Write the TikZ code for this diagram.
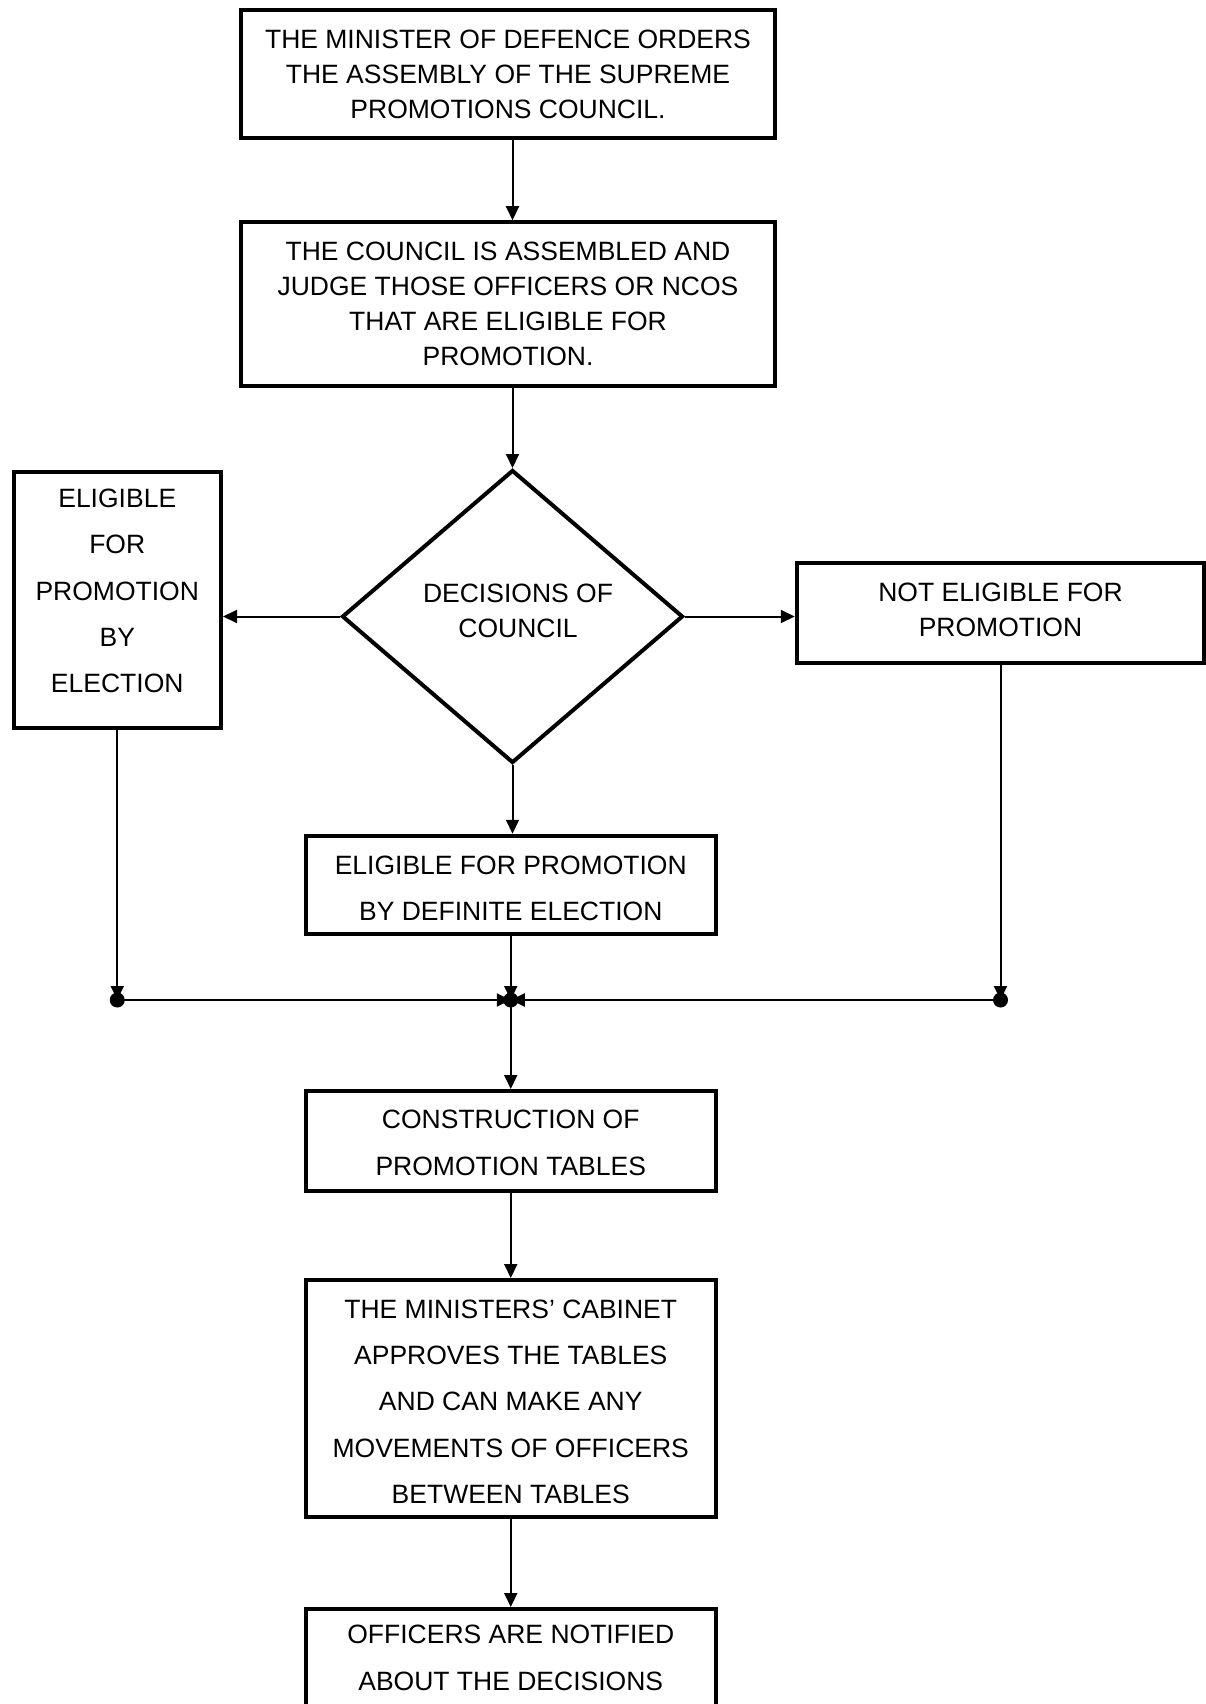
\documentclass[tikz,border=0pt]{standalone}
\usepackage{fontspec}
\setmainfont{Liberation Sans}
\usetikzlibrary{arrows.meta,shapes.geometric}

% invisible struts used to nudge a node's text up or down
\newcommand{\lowstrut}[1]{\rule[-#1]{0pt}{0pt}}
\newcommand{\highstrut}[1]{\rule{0pt}{#1}}

\begin{document}
\begin{tikzpicture}[x=1pt,y=-1pt,
  box/.style={draw, line width=4pt, rectangle, align=center, inner sep=0pt,
              font=\fontsize{26.5}{35}\selectfont},
  widebox/.style={box, font=\fontsize{26.5}{46.3}\selectfont},
  decision/.style={draw, line width=4pt, diamond, inner sep=0pt, align=center,
              font=\fontsize{26.5}{35}\selectfont},
  flow/.style={line width=2pt, -{Triangle[length=14pt,width=13pt]}},
  dot/.style={circle, fill, inner sep=0pt, minimum size=15pt}
]
\useasboundingbox (0,0) rectangle (1205,1704);

% process boxes
\node[box, minimum width=534, minimum height=127.5] (b1) at (508,74)
  {THE MINISTER OF DEFENCE ORDERS\\THE ASSEMBLY OF THE SUPREME\\PROMOTIONS COUNCIL.};
\node[box, minimum width=534, minimum height=163.5] (b2) at (508,304)
  {THE COUNCIL IS ASSEMBLED AND\\JUDGE THOSE OFFICERS OR NCOS\\THAT ARE ELIGIBLE FOR\\PROMOTION.};
\node[decision, minimum width=341, minimum height=293] (dec) at (512.5,616.5)
  {\hspace*{11pt}DECISIONS OF\\\hspace*{11pt}COUNCIL\lowstrut{11pt}};
\node[widebox, minimum width=207.5, minimum height=256] (left) at (117.25,599.5)
  {ELIGIBLE\\FOR\\PROMOTION\\BY\\ELECTION\lowstrut{17.5pt}};
\node[box, minimum width=407.5, minimum height=100] (right) at (1000.5,613)
  {NOT ELIGIBLE FOR\\PROMOTION\lowstrut{6.5pt}};
\node[widebox, minimum width=409.5, minimum height=98.5] (def) at (510.75,885)
  {\highstrut{25pt}ELIGIBLE FOR PROMOTION\\BY DEFINITE ELECTION};
\node[widebox, minimum width=409.5, minimum height=100] (cons) at (510.75,1141)
  {\highstrut{22pt}CONSTRUCTION OF\\PROMOTION TABLES};
\node[widebox, minimum width=409.5, minimum height=237] (cab) at (510.75,1398.5)
  {\highstrut{25pt}THE MINISTERS’ CABINET\\APPROVES THE TABLES\\AND CAN MAKE ANY\\MOVEMENTS OF OFFICERS\\BETWEEN TABLES};
\node[widebox, minimum width=409.5, minimum height=98] (notif) at (510.75,1658)
  {OFFICERS ARE NOTIFIED\\ABOUT THE DECISIONS};

% junction points
\coordinate (jc) at (510.75,1000);
\coordinate (jl) at (left.south |- jc);
\coordinate (jr) at (right.south |- jc);

% connectors
\draw[flow] (b1.south -| dec.north) -- (b2.north -| dec.north);
\draw[flow] (b2.south -| dec.north) -- (dec.north);
\draw[flow] (dec.west) -- (left.east |- dec.west);
\draw[flow] (dec.east) -- (right.west |- dec.east);
\draw[flow] (dec.south) -- (def.north -| dec.south);
\draw[flow] (left.south) -- (jl);
\draw[flow] (right.south) -- (jr);
\draw[flow] (def.south) -- (jc);
\draw[flow] (jl) -- (jc);
\draw[flow] (jr) -- (jc);
\draw[flow] (jc) -- (cons.north);
\draw[flow] (cons.south) -- (cab.north);
\draw[flow] (cab.south) -- (notif.north);

% junction dots
\node[dot] (dl) at (jl) {};
\node[dot] (dc) at (jc) {};
\node[dot] (dr) at (jr) {};
\end{tikzpicture}
\end{document}
